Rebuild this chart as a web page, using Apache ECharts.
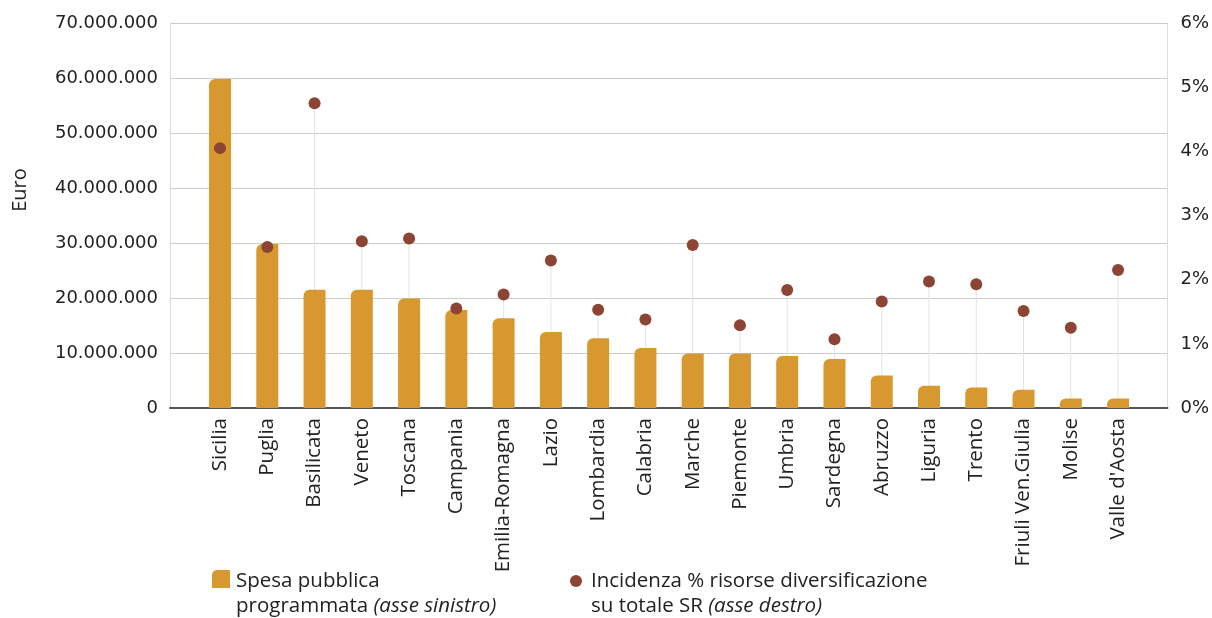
<!DOCTYPE html>
<html><head><meta charset="utf-8">
<script src="https://cdn.jsdelivr.net/npm/echarts@6/dist/echarts.min.js"></script>
<style>html,body{margin:0;padding:0;background:#fff}#c{width:1212px;height:618px}</style>
</head><body><div id="c"></div>
<script>
const categories = ['Sicilia','Puglia','Basilicata','Veneto','Toscana','Campania','Emilia-Romagna','Lazio','Lombardia','Calabria','Marche','Piemonte','Umbria','Sardegna','Abruzzo','Liguria','Trento','Friuli Ven.Giulia','Molise',"Valle d'Aosta"];
const spesa = [59800000,29800000,21500000,21500000,19900000,17800000,16300000,13800000,12700000,10900000,9900000,9900000,9450000,8900000,5900000,4050000,3750000,3300000,1750000,1750000];
const incidenza = [4.05,2.51,4.75,2.60,2.64,1.55,1.77,2.30,1.53,1.38,2.54,1.29,1.84,1.07,1.66,1.97,1.93,1.51,1.25,2.15];
const leftTicks = {min:0, max:70000000, interval:10000000};
const rightTicks = {min:0, max:6, interval:1};
const legendSpesa = ['Spesa pubblica', 'programmata ', '(asse sinistro)'];
const legendInc = ['Incidenza % risorse diversificazione', 'su totale SR ', '(asse destro)'];

const FONT = '"Open Sans", "Noto Sans", sans-serif';
const NUMFONT = 'DejaVu Sans';
const BAR = '#D6982F', DOT = '#8C4535', TXT = '#222';
const chart = echarts.init(document.getElementById('c'));
const fmtDots = v => String(Math.round(v)).replace(/\B(?=(\d{3})+(?!\d))/g, '.');
const richI = {i:{fontStyle:'italic',fontFamily:FONT,fontSize:20.5,fill:TXT,lineHeight:25}, n:{fontFamily:FONT,fontSize:20.5,fill:TXT,lineHeight:25}};
chart.setOption({
  animation:false,
  textStyle:{fontFamily:FONT},
  grid:[
    {left:170,right:42,top:23,bottom:210},
    {left:196.4,right:70.3,top:23,bottom:210}
  ],
  xAxis:[
    {type:'category',gridIndex:0,data:categories,
     axisTick:{show:false},axisLabel:{show:false},
     axisLine:{lineStyle:{color:'#555',width:2}}},
    {type:'category',gridIndex:1,data:categories,
     axisTick:{show:false},axisLine:{show:false},
     axisLabel:{interval:0,rotate:90,fontSize:20.5,color:TXT,margin:10,fontFamily:FONT}}
  ],
  yAxis:[
    {type:'value',gridIndex:0,min:leftTicks.min,max:leftTicks.max,interval:leftTicks.interval,
     axisLine:{show:true,lineStyle:{color:'#ddd'}},axisTick:{show:false},
     splitLine:{lineStyle:{color:'#ccc'}},
     axisLabel:{formatter:fmtDots,fontSize:18,color:TXT,margin:12,fontFamily:NUMFONT}},
    {type:'value',gridIndex:0,min:rightTicks.min,max:rightTicks.max,interval:rightTicks.interval,
     axisLine:{show:true,lineStyle:{color:'#ddd'}},axisTick:{show:false},
     splitLine:{show:false},
     axisLabel:{formatter:'{value}%',fontSize:18,color:TXT,margin:13,fontFamily:NUMFONT}},
    {type:'value',gridIndex:1,min:leftTicks.min,max:leftTicks.max,interval:leftTicks.interval,
     show:false},
    {type:'value',gridIndex:1,min:rightTicks.min,max:rightTicks.max,interval:rightTicks.interval,
     show:false,position:'right'}
  ],
  graphic:[
    {type:'text',x:20,y:190,rotation:Math.PI/2,
     style:{text:'Euro',fontSize:20,fill:TXT,fontFamily:FONT,align:'center',verticalAlign:'middle'}},
    {type:'rect',shape:{x:212,y:570,width:18,height:18,r:[5,0,0,0]},style:{fill:BAR}},
    {type:'text',x:236,y:569,style:{text:'{n|'+legendSpesa[0]+'}\n{n|'+legendSpesa[1]+'}{i|'+legendSpesa[2]+'}',rich:richI,fontFamily:FONT,fontSize:20.5,fill:TXT,lineHeight:25}},
    {type:'circle',shape:{cx:576,cy:581,r:6},style:{fill:DOT}},
    {type:'text',x:591,y:569,style:{text:'{n|'+legendInc[0]+'}\n{n|'+legendInc[1]+'}{i|'+legendInc[2]+'}',rich:richI,fontFamily:FONT,fontSize:20.5,fill:TXT,lineHeight:25}}
  ],
  series:[
    {type:'custom',xAxisIndex:1,yAxisIndex:3,z:1,silent:true,data:incidenza.map((v,i)=>[i,v]),
     renderItem:(params,api)=>{
       const p1=api.coord([api.value(0),api.value(1)]);
       const p0=api.coord([api.value(0),0]);
       return {type:'line',shape:{x1:p1[0],y1:p1[1],x2:p0[0],y2:p0[1]},style:{stroke:'#e4e4e4',lineWidth:1}};
     }},
    {name:'Spesa pubblica programmata (asse sinistro)',type:'bar',xAxisIndex:1,yAxisIndex:2,z:2,data:spesa,barWidth:22,
     itemStyle:{color:BAR,borderRadius:[6,0,0,0]}},
    {name:'Incidenza % risorse diversificazione su totale SR (asse destro)',type:'scatter',xAxisIndex:1,yAxisIndex:3,z:3,data:incidenza,symbolSize:12,
     itemStyle:{color:DOT,opacity:1}}
  ]
});
</script></body></html>
